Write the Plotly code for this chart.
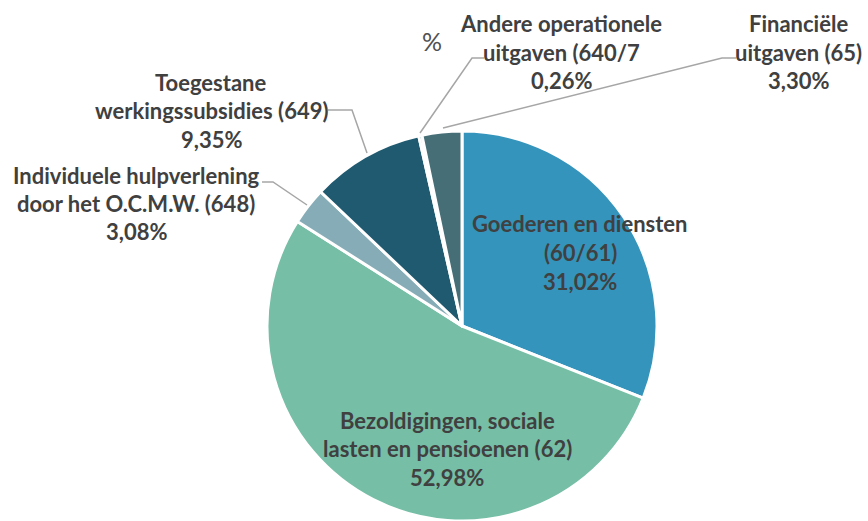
import plotly.graph_objects as go

# Expenditure breakdown (share of total, %)
categories = [
    "Goederen en diensten (60/61)",
    "Bezoldigingen, sociale lasten en pensioenen (62)",
    "Individuele hulpverlening door het O.C.M.W. (648)",
    "Toegestane werkingssubsidies (649)",
    "Andere operationele uitgaven (640/7",
    "Financiële uitgaven (65)",
]
shares = [31.02, 52.98, 3.08, 9.35, 0.26, 3.30]
colors = ["#3594BB", "#76BEA6", "#86ADB7", "#1F5A70", "#5C9CAE", "#456E77"]

# Wrapped label lines for each category (percentage appended as last line)
label_lines = [
    ["Goederen en diensten", "(60/61)"],
    ["Bezoldigingen, sociale", "lasten en pensioenen (62)"],
    ["Individuele hulpverlening", "door het O.C.M.W. (648)"],
    ["Toegestane", "werkingssubsidies (649)"],
    ["Andere operationele", "uitgaven (640/7"],
    ["Financiële", "uitgaven (65)"],
]

W, H = 868, 521
# label block anchors in pixels: (center x, first line y)
label_pos = [(580, 224), (447, 420), (136, 175), (211, 82), (561, 24), (798, 24)]
LINE_STEP = 28.5

# leader lines in pixels (label end -> elbow -> slice edge)
leaders = [
    None,
    None,
    [(262, 182), (273, 182), (307, 205)],
    [(328, 110), (352, 110), (367, 153)],
    [(484, 58), (472, 58), (420, 133)],
    [(736, 58), (722, 58), (443, 128)],
]


def fmt_pct(v):
    return f"{v:.2f}%".replace(".", ",")


def px(x):
    return x / W


def py(y):
    return 1 - y / H


# pie geometry: center (462, 326), radius 195
cx, cy, r = 462, 326, 195

fig = go.Figure(
    go.Pie(
        labels=categories,
        values=shares,
        sort=False,
        direction="clockwise",
        rotation=0,
        textinfo="none",
        hoverinfo="label+percent",
        marker=dict(colors=colors, line=dict(color="white", width=3)),
        domain=dict(x=[px(cx - r), px(cx + r)], y=[py(cy + r), py(cy - r)]),
        showlegend=False,
    )
)

font = dict(family="Lato, 'Open Sans', sans-serif", size=22, color="#404040")

annotations = []
for lines, share, (lx, ly) in zip(label_lines, shares, label_pos):
    all_lines = lines + [fmt_pct(share)]
    for i, t in enumerate(all_lines):
        annotations.append(
            dict(
                x=px(lx), y=py(ly + i * LINE_STEP), xref="paper", yref="paper",
                text=f"<b>{t}</b>", showarrow=False, font=font,
                xanchor="center", yanchor="middle",
            )
        )

# stray percent sign that wrapped out of the "Andere operationele" label
annotations.append(
    dict(
        x=px(432), y=py(41), xref="paper", yref="paper", text="%",
        showarrow=False, xanchor="center", yanchor="middle",
        font=dict(family="Lato, 'Open Sans', sans-serif", size=25, color="#505050"),
    )
)

shapes = []
for pts in leaders:
    if not pts:
        continue
    path = "M " + " L ".join(f"{px(x)},{py(y)}" for x, y in pts)
    shapes.append(
        dict(type="path", path=path, xref="paper", yref="paper",
             line=dict(color="#A6A6A6", width=1.5))
    )

fig.update_layout(
    width=W, height=H,
    margin=dict(l=0, r=0, t=0, b=0),
    paper_bgcolor="white",
    plot_bgcolor="white",
    annotations=annotations,
    shapes=shapes,
)

fig.write_html("out.html")
